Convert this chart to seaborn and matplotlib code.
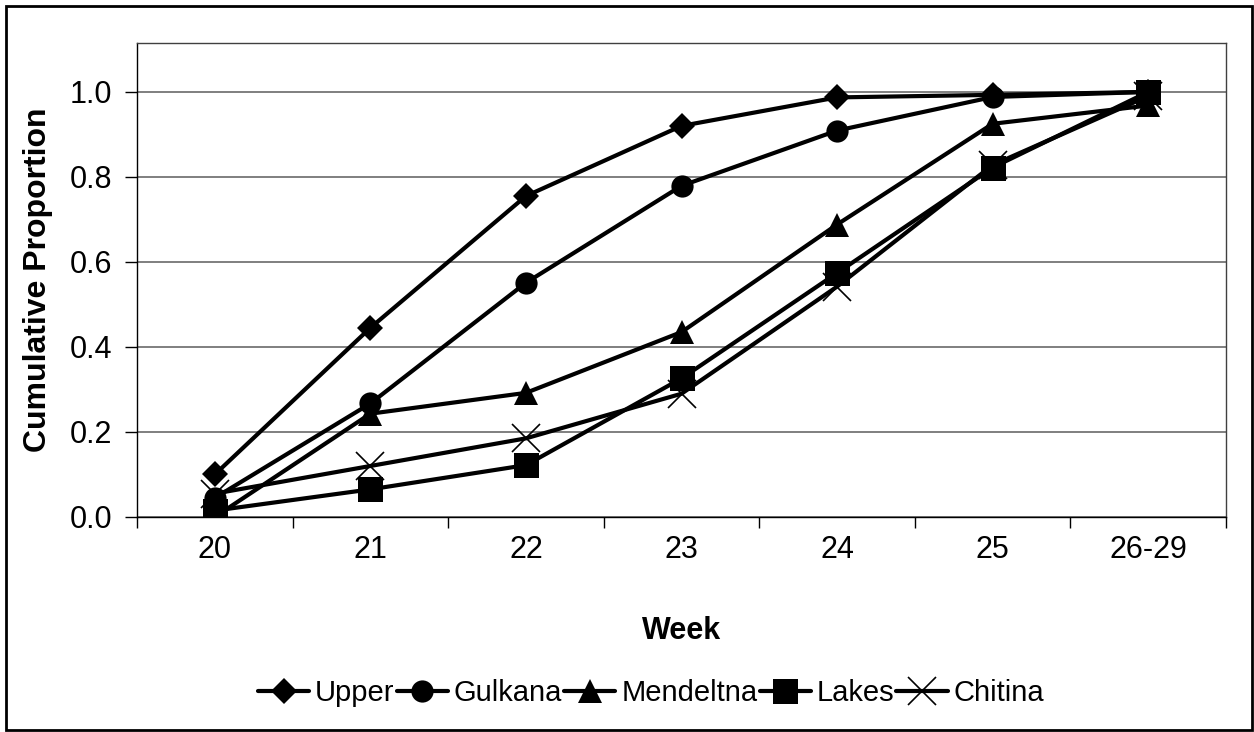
import matplotlib
matplotlib.use("Agg")
import matplotlib.pyplot as plt
import seaborn as sns
import pandas as pd
from matplotlib.patches import Rectangle
from matplotlib.lines import Line2D

weeks = ["20", "21", "22", "23", "24", "25", "26-29"]
upper = [0.10, 0.445, 0.755, 0.92, 0.987, 0.993, 1.0]
gulkana = [0.045, 0.267, 0.551, 0.779, 0.909, 0.988, 1.0]
mendeltna = [0.0, 0.243, 0.292, 0.435, 0.688, 0.925, 0.968]
lakes = [0.015, 0.065, 0.122, 0.326, 0.574, 0.822, 1.0]
chitina = [0.055, 0.12, 0.185, 0.29, 0.542, 0.828, 0.99]
series_names = ["Upper", "Gulkana", "Mendeltna", "Lakes", "Chitina"]
yticks = [0.0, 0.2, 0.4, 0.6, 0.8, 1.0]

sns.set_theme(style="white")
plt.rcParams["font.family"] = ["Liberation Sans", "DejaVu Sans"]
plt.rcParams.update({"text.color": "black", "axes.labelcolor": "black",
                     "xtick.color": "black", "ytick.color": "black"})

fig = plt.figure(figsize=(12.54, 7.32), dpi=100)
ax = fig.add_axes([137/1254, 1-517/732, (1226-137)/1254, (517-43)/732])

styles = {
    "Upper": dict(marker="D", ms=13),
    "Gulkana": dict(marker="o", ms=16),
    "Mendeltna": dict(marker="^", ms=17),
    "Lakes": dict(marker="s", ms=18),
    "Chitina": dict(marker="x", ms=20, mew=1.2),
}
data = dict(zip(series_names, [upper, gulkana, mendeltna, lakes, chitina]))
pos = list(range(len(weeks)))

for name in series_names:
    st = styles[name]
    df = pd.DataFrame({"pos": pos, "val": data[name]})
    sns.lineplot(data=df, x="pos", y="val", ax=ax, color="black", lw=3,
                 marker=st["marker"], markersize=st["ms"],
                 markeredgewidth=st.get("mew", 0), markeredgecolor="black",
                 markerfacecolor="black", zorder=3, legend=False)

ax.set_xlim(-0.5, len(weeks) - 0.5)
ax.set_ylim(0, 1.115)
ax.set_yticks(yticks)
ax.set_yticklabels([f"{v:.1f}" for v in yticks])
ax.set_xticks(pos)
ax.set_xticklabels(weeks)
ax.set_xticks([p - 0.5 for p in pos] + [len(weeks) - 0.5], minor=True)
ax.tick_params(axis="x", which="major", length=0, pad=13, labelsize=22, labelcolor="black")
ax.tick_params(axis="x", which="minor", length=8, width=1, color="black", direction="out", bottom=True)
ax.tick_params(axis="y", which="major", length=9, width=1, color="black", direction="out", left=True, pad=9, labelsize=22, labelcolor="black")
ax.yaxis.grid(True, color="#6a6a6a", lw=1.2)
ax.xaxis.grid(False)
for s in ax.spines.values():
    s.set_color("black")
    s.set_linewidth(1)
ax.spines["top"].set_color("#404040")
ax.spines["right"].set_color("#404040")

ax.set_xlabel("Week", fontsize=22, fontweight="bold", labelpad=37, color="black")
ax.set_ylabel("Cumulative Proportion", fontsize=23, fontweight="bold", labelpad=12, color="black")

handles = [Line2D([], [], color="black", lw=3, marker=styles[n]["marker"],
                  markersize=styles[n]["ms"], markeredgewidth=styles[n].get("mew", 0),
                  markerfacecolor="black", markeredgecolor="black") for n in series_names]
fig.legend(handles, series_names, loc="center", bbox_to_anchor=(651/1254, 1-693/732),
           ncol=5, frameon=False, fontsize=21, handlelength=1.75, handletextpad=0.2,
           columnspacing=0.08, labelcolor="black")

fig.patches.append(Rectangle((6/1254, 2/732), 1246/1254, 724/732, transform=fig.transFigure,
                             fill=False, edgecolor="black", lw=2))

fig.savefig("out.png", dpi=100)
